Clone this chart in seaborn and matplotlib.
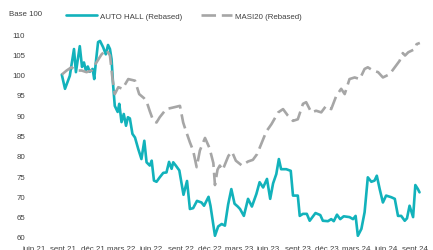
import matplotlib
matplotlib.use("Agg")
import matplotlib.pyplot as plt
import pandas as pd
import seaborn as sns

ah_dates = ["2021-08-27","2021-09-06","2021-09-21","2021-10-04","2021-10-10","2021-10-22","2021-10-29",
            "2021-11-04","2021-11-10","2021-11-16","2021-11-22","2021-12-01","2021-12-06","2021-12-11",
            "2021-12-18","2021-12-24","2022-01-03","2022-01-11","2022-01-18","2022-01-24","2022-01-29",
            "2022-02-03","2022-02-08","2022-02-17","2022-02-22","2022-03-01","2022-03-08","2022-03-15",
            "2022-03-21","2022-03-27","2022-04-04","2022-04-12","2022-04-22","2022-05-02","2022-05-11",
            "2022-05-18","2022-05-28","2022-06-03","2022-06-10","2022-06-18","2022-06-28","2022-07-09",
            "2022-07-19","2022-07-27","2022-08-04","2022-08-09","2022-08-17","2022-08-28","2022-09-10",
            "2022-09-21","2022-09-30","2022-10-10","2022-10-22","2022-11-05","2022-11-13","2022-11-27",
            "2022-12-03","2022-12-17","2022-12-27","2023-01-07","2023-01-17","2023-01-27","2023-02-06",
            "2023-02-16","2023-02-26","2023-03-05","2023-03-17","2023-03-30","2023-04-11","2023-04-25",
            "2023-05-05","2023-05-16","2023-05-28","2023-06-07","2023-06-16","2023-06-26","2023-07-04",
            "2023-07-11","2023-07-27","2023-08-10","2023-08-17","2023-09-01","2023-09-07","2023-09-17",
            "2023-09-29","2023-10-08","2023-10-26","2023-11-10","2023-11-18","2023-12-04","2023-12-14",
            "2023-12-22","2024-01-01","2024-01-11","2024-01-22","2024-02-09","2024-02-20","2024-02-28",
            "2024-03-06","2024-03-17","2024-03-27","2024-04-06","2024-04-17","2024-04-27","2024-05-04",
            "2024-05-13","2024-05-23","2024-06-02","2024-06-18","2024-06-29","2024-07-09","2024-07-19",
            "2024-07-30","2024-08-06","2024-08-14","2024-08-25","2024-09-01","2024-09-09","2024-09-14"]
ah_values = [100.0,96.5,99.7,106.3,100.6,107.0,101.9,
             103.0,101.0,102.0,100.7,101.4,98.9,103.0,
             108.0,108.3,106.7,105.0,107.3,106.3,103.8,
             97.3,92.3,90.8,92.8,88.3,90.3,87.4,
             89.5,89.2,85.4,84.5,81.7,79.2,83.7,
             78.4,77.6,78.8,73.9,73.6,74.7,75.8,
             75.9,78.5,76.8,78.4,77.6,76.4,70.4,
             73.8,66.9,67.1,68.9,68.5,67.7,69.9,
             67.7,60.3,62.6,63.2,62.8,68.0,71.8,
             68.2,67.5,66.9,65.2,69.4,67.5,70.6,
             73.5,72.2,74.3,69.4,73.2,75.5,79.2,
             76.7,76.7,76.3,70.2,70.2,65.2,65.7,
             65.7,64.0,65.9,65.4,64.0,63.9,64.4,
             63.9,65.5,64.4,65.1,64.9,64.4,65.2,
             60.3,62.0,66.1,74.7,73.6,73.9,75.1,
             71.8,68.5,70.2,69.8,69.4,65.2,65.2,
             64.0,64.6,67.7,64.9,72.8,71.8,71.0]

masi_dates = ["2021-08-27","2021-09-11","2021-09-26","2021-10-12","2021-10-28","2021-11-12","2021-11-28",
              "2021-12-13","2021-12-29","2022-01-13","2022-01-24","2022-02-01","2022-02-08","2022-02-19",
              "2022-03-04","2022-03-22","2022-04-12","2022-04-25","2022-05-10","2022-05-18","2022-05-28",
              "2022-06-08","2022-06-18","2022-06-28","2022-07-18","2022-08-09","2022-08-30","2022-09-09",
              "2022-09-16","2022-09-30","2022-10-10","2022-10-21","2022-10-31","2022-11-16","2022-11-30",
              "2022-12-12","2022-12-17","2022-12-25","2023-01-01","2023-01-10","2023-01-28","2023-02-08",
              "2023-02-20","2023-03-11","2023-03-30","2023-04-14","2023-04-27","2023-05-08","2023-05-26",
              "2023-06-11","2023-07-02","2023-07-17","2023-08-01","2023-08-17","2023-09-01","2023-09-17",
              "2023-09-27","2023-10-13","2023-10-28","2023-11-13","2023-11-28","2023-12-14","2023-12-30",
              "2024-01-14","2024-01-25","2024-02-09","2024-02-25","2024-03-12","2024-03-27","2024-04-06",
              "2024-04-22","2024-05-08","2024-05-23","2024-06-13","2024-06-29","2024-07-14","2024-07-24",
              "2024-07-31","2024-08-10","2024-08-31","2024-09-05","2024-09-15"]
masi_values = [100.0,101.0,101.8,101.0,101.0,100.6,101.0,
               103.0,105.0,106.1,104.7,98.9,95.2,96.9,
               96.5,98.9,98.5,95.2,94.2,93.4,91.0,
               88.6,88.2,89.5,91.5,91.9,92.3,88.2,
               86.5,83.3,81.3,77.2,81.3,84.4,81.9,
               78.2,72.8,76.6,77.6,76.5,80.0,81.0,
               78.8,77.6,78.6,79.0,80.4,82.5,86.0,
               87.8,90.7,91.5,89.9,88.6,89.0,92.8,
               93.2,90.7,91.1,90.7,92.3,91.5,94.8,
               96.5,95.2,98.9,99.3,98.9,101.4,101.8,
               101.0,100.6,99.3,100.1,101.8,103.4,105.3,
               104.7,105.5,106.3,107.5,107.8]

series_names = ["AUTO HALL (Rebased)", "MASI20 (Rebased)"]
tick_dates = ["2021-06-01","2021-09-01","2021-12-01","2022-03-01","2022-06-01","2022-09-01","2022-12-01",
              "2023-03-01","2023-06-01","2023-09-01","2023-12-01","2024-03-01","2024-06-01","2024-09-01"]
tick_labels = ["juin 21","sept 21","déc 21","mars 22","juin 22","sept 22","déc 22",
               "mars 23","juin 23","sept 23","déc 23","mars 24","juin 24","sept 24"]
y_ticks = [60, 65, 70, 75, 80, 85, 90, 95, 100, 105, 110]
y_title = "Base 100"

df = pd.concat([
    pd.DataFrame({"date": pd.to_datetime(ah_dates), "value": ah_values, "series": series_names[0]}),
    pd.DataFrame({"date": pd.to_datetime(masi_dates), "value": masi_values, "series": series_names[1]}),
])

sns.set_style("white")
plt.rcParams['font.family'] = ['Liberation Sans', 'DejaVu Sans']
TEXT = "#404040"
FS = 5.7

fig = plt.figure(figsize=(4.33, 2.51), dpi=100)
ax = fig.add_axes([30/433, 13/251, 403/433, 203/251])

palette = {series_names[0]: "#12B2BB", series_names[1]: "#A6A6A6"}
dashes = {series_names[0]: "", series_names[1]: (5.5, 2.2)}
sns.lineplot(data=df, x="date", y="value", hue="series", style="series",
             palette=palette, dashes=dashes, linewidth=1.9, estimator=None,
             errorbar=None, ax=ax)

ax.set_xlim(pd.Timestamp("2021-05-20"), pd.Timestamp("2024-10-26"))
ax.set_ylim(60, 110)
ax.set_xticks(pd.to_datetime(tick_dates))
ax.set_xticklabels(tick_labels)
ax.set_yticks(y_ticks)
ax.set_yticklabels([str(v) for v in y_ticks])
ax.tick_params(axis="both", length=0, labelsize=FS, colors=TEXT)
ax.tick_params(axis="x", pad=6.0)
ax.tick_params(axis="y", pad=3.5)
ax.set_xlabel("")
ax.set_ylabel("")
for s in ax.spines.values():
    s.set_visible(False)
ax.grid(False)

fig.text(9/433, 1 - 15/251, y_title, fontsize=FS, color=TEXT, ha="left", va="center")

leg = ax.legend(loc="center left", bbox_to_anchor=(66/433, 1 - 17/251),
                bbox_transform=fig.transFigure, ncol=2, frameon=False,
                fontsize=FS, handlelength=3.9, handletextpad=0.45, columnspacing=2.3,
                borderaxespad=0, borderpad=0)
for t in leg.get_texts():
    t.set_color(TEXT)
for h in leg.get_lines():
    h.set_linewidth(1.9)

fig.savefig("out.png", dpi=100)
